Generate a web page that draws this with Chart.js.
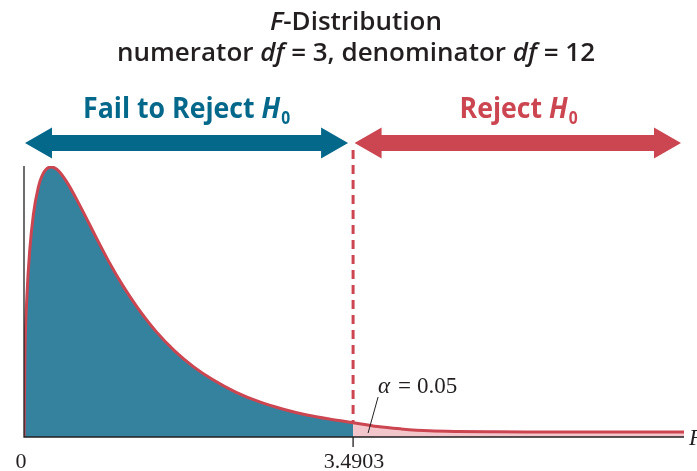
<!DOCTYPE html>
<html>
<head>
<meta charset="utf-8">
<title>F-Distribution</title>
<script src="https://cdn.jsdelivr.net/npm/chart.js@4"></script>
<style>
  html, body { margin: 0; padding: 0; background: #fff; }
  canvas { display: block; }
</style>
</head>
<body>
<canvas id="fChart" width="697" height="471"></canvas>
<script>
// -------------------
// DATA

const fLeft = [0, 0.01, 0.03, 0.06, 0.1, 0.15, 0.2, 0.2857, 0.35, 0.45, 0.6, 0.75, 0.9, 1.05,
  1.2, 1.4, 1.6, 1.8, 2.0, 2.25, 2.5, 2.75, 3.0, 3.25, 3.4903];
const densityLeft = [0, 0.216, 0.36, 0.482, 0.578, 0.646, 0.682, 0.7006, 0.694, 0.663, 0.597, 0.525, 0.455, 0.392,
  0.337, 0.274, 0.223, 0.182, 0.149, 0.116, 0.091, 0.072, 0.057, 0.046, 0.0372];

const fRight = [3.4903, 3.75, 4.0, 4.3, 4.6, 5.0, 5.5, 6.0, 6.5, 7.0];
const densityRight = [0.0372, 0.027, 0.021, 0.016, 0.0142, 0.0135, 0.0132, 0.013, 0.013, 0.013];

const criticalValue = 3.4903;
const alphaParts = ["\u03B1", "=", "0.05"];
const tickLabels = ["0", "3.4903"];
const titleLines = ["F-Distribution", "numerator df = 3, denominator df = 12"];
const regionLabels = ["Fail to Reject", "Reject"];

const TEAL = "#04688b";
const FILL_TEAL = "#35829f";
const RED = "#cc4651";
const PINK = "#f2c6ca";
const INK = "#231f20";

const toPoints = (xs, ys) => xs.map((x, i) => ({ x: x, y: ys[i] }));

// -------------------
// HELPERS

function drawArrow(ctx, x1, x2, y, color) {
  const shaft = 8, head = 15.5, headLen = 27;
  ctx.save();
  ctx.fillStyle = color;
  ctx.beginPath();
  ctx.moveTo(x1, y);
  ctx.lineTo(x1 + headLen, y - head);
  ctx.lineTo(x1 + headLen, y - shaft);
  ctx.lineTo(x2 - headLen, y - shaft);
  ctx.lineTo(x2 - headLen, y - head);
  ctx.lineTo(x2, y);
  ctx.lineTo(x2 - headLen, y + head);
  ctx.lineTo(x2 - headLen, y + shaft);
  ctx.lineTo(x1 + headLen, y + shaft);
  ctx.lineTo(x1 + headLen, y + head);
  ctx.closePath();
  ctx.fill();
  ctx.restore();
}

// label like "Reject H0" with italic H and subscript 0, centred on cx
function drawRegionLabel(ctx, text, cx, y, color) {
  const main = "bold 29px 'Open Sans'";
  const ital = "italic bold 29px 'Open Sans'";
  const sub = "bold 17px 'Open Sans'";
  ctx.save();
  ctx.fillStyle = color;
  ctx.textBaseline = "alphabetic";
  ctx.textAlign = "left";
  ctx.font = main;
  const w1 = ctx.measureText(text + " ").width;
  ctx.font = ital;
  const w2 = ctx.measureText("H").width;
  ctx.font = sub;
  const w3 = ctx.measureText("0").width;
  const sx = 0.92; // slightly condensed look
  const total = (w1 + w2 + w3 + 1) * sx;
  ctx.translate(cx - total / 2, y);
  ctx.scale(sx, 1);
  ctx.font = main;
  ctx.fillText(text + " ", 0, 0);
  ctx.font = ital;
  ctx.fillText("H", w1, 0);
  ctx.font = sub;
  ctx.fillText("0", w1 + w2 + 1, 6);
  ctx.restore();
}

// centred run of [text, italic] parts
function drawTitleLine(ctx, parts, cx, y, size) {
  const fontFor = it => (it ? "italic " : "") + "600 " + size + "px 'Open Sans'";
  const widths = parts.map(p => {
    ctx.font = fontFor(p[1]);
    return ctx.measureText(p[0]).width;
  });
  let tx = cx - widths.reduce((a, b) => a + b, 0) / 2;
  parts.forEach((p, i) => {
    ctx.font = fontFor(p[1]);
    ctx.fillText(p[0], tx, y);
    tx += widths[i];
  });
}

// -------------------
// DECORATION PLUGIN

const decorations = {
  id: "decorations",
  afterDatasetsDraw(chart) {
    const { ctx, chartArea, scales } = chart;
    const xs = scales.x, ys = scales.y;
    const x0 = xs.getPixelForValue(0);
    const xc = xs.getPixelForValue(criticalValue);
    const xEnd = xs.getPixelForValue(xs.max);
    const yBase = ys.getPixelForValue(0);
    const yCrit = ys.getPixelForValue(densityLeft[densityLeft.length - 1]);

    // axes
    ctx.save();
    ctx.strokeStyle = INK;
    ctx.lineWidth = 1.3;
    ctx.beginPath();
    ctx.moveTo(x0, chartArea.top);
    ctx.lineTo(x0, yBase);
    ctx.lineTo(xEnd, yBase);
    ctx.moveTo(xc, yBase);
    ctx.lineTo(xc, yBase + 10);
    ctx.stroke();

    // dashed critical line
    ctx.strokeStyle = RED;
    ctx.lineWidth = 3;
    ctx.setLineDash([9, 6]);
    ctx.beginPath();
    ctx.moveTo(xc, 150);
    ctx.lineTo(xc, yCrit);
    ctx.stroke();
    ctx.setLineDash([]);

    // alpha leader line
    ctx.strokeStyle = INK;
    ctx.lineWidth = 1;
    ctx.beginPath();
    ctx.moveTo(xc + 25, 397);
    ctx.lineTo(xc + 15, 433);
    ctx.stroke();

    // serif texts
    ctx.fillStyle = INK;
    ctx.textBaseline = "alphabetic";
    ctx.textAlign = "left";
    ctx.font = "italic 23px 'Liberation Serif'";
    ctx.fillText(alphaParts[0], xc + 25, 393);
    ctx.font = "23px 'Liberation Serif'";
    ctx.fillText(alphaParts[1], xc + 45, 393);
    ctx.fillText(alphaParts[2], xc + 64, 393);
    ctx.font = "22px 'Liberation Serif'";
    ctx.textAlign = "center";
    ctx.fillText(tickLabels[0], x0 - 3, 468);
    ctx.fillText(tickLabels[1], xc + 1, 468);
    ctx.textAlign = "left";
    ctx.font = "italic 23px 'Liberation Serif'";
    ctx.fillText("F", xEnd + 5, 445);

    // title
    drawTitleLine(ctx, [["F", true], [titleLines[0].slice(1), false]], 356, 30, 26);
    drawTitleLine(ctx, [["numerator ", false], ["df", true], [" = 3, denominator ", false], ["df", true], [" = 12", false]], 356, 61, 26);
    ctx.restore();

    // arrows and region labels
    drawArrow(ctx, x0 + 1, xc - 5, 143, TEAL);
    drawArrow(ctx, xc + 1.5, xEnd - 3, 143, RED);
    drawRegionLabel(ctx, regionLabels[0], (x0 + xc - 4) / 2, 118, TEAL);
    drawRegionLabel(ctx, regionLabels[1], (xc + xEnd) / 2, 118, RED);
  }
};

// -------------------
// CHART

const canvasHTML = document.getElementById("fChart");
const fChart = new Chart(canvasHTML, {
  type: "line",
  data: {
    datasets: [
      {
        label: "Fail to reject",
        data: toPoints(fLeft, densityLeft),
        fill: "origin",
        backgroundColor: FILL_TEAL,
        borderColor: RED,
        borderWidth: 3,
        cubicInterpolationMode: "monotone",
        pointRadius: 0,
      },
      {
        label: "Reject",
        data: toPoints(fRight, densityRight),
        fill: "origin",
        backgroundColor: PINK,
        borderColor: RED,
        borderWidth: 3,
        cubicInterpolationMode: "monotone",
        pointRadius: 0,
      },
    ],
  },
  options: {
    responsive: false,
    animation: false,
    layout: { padding: { left: 24, right: 13, top: 166, bottom: 34 } },
    scales: {
      x: { type: "linear", min: 0, max: 7, display: false },
      y: { min: 0, max: 0.703, display: false },
    },
    plugins: {
      legend: { display: false },
      tooltip: { enabled: false },
    },
  },
  plugins: [decorations],
});
</script>
</body>
</html>
